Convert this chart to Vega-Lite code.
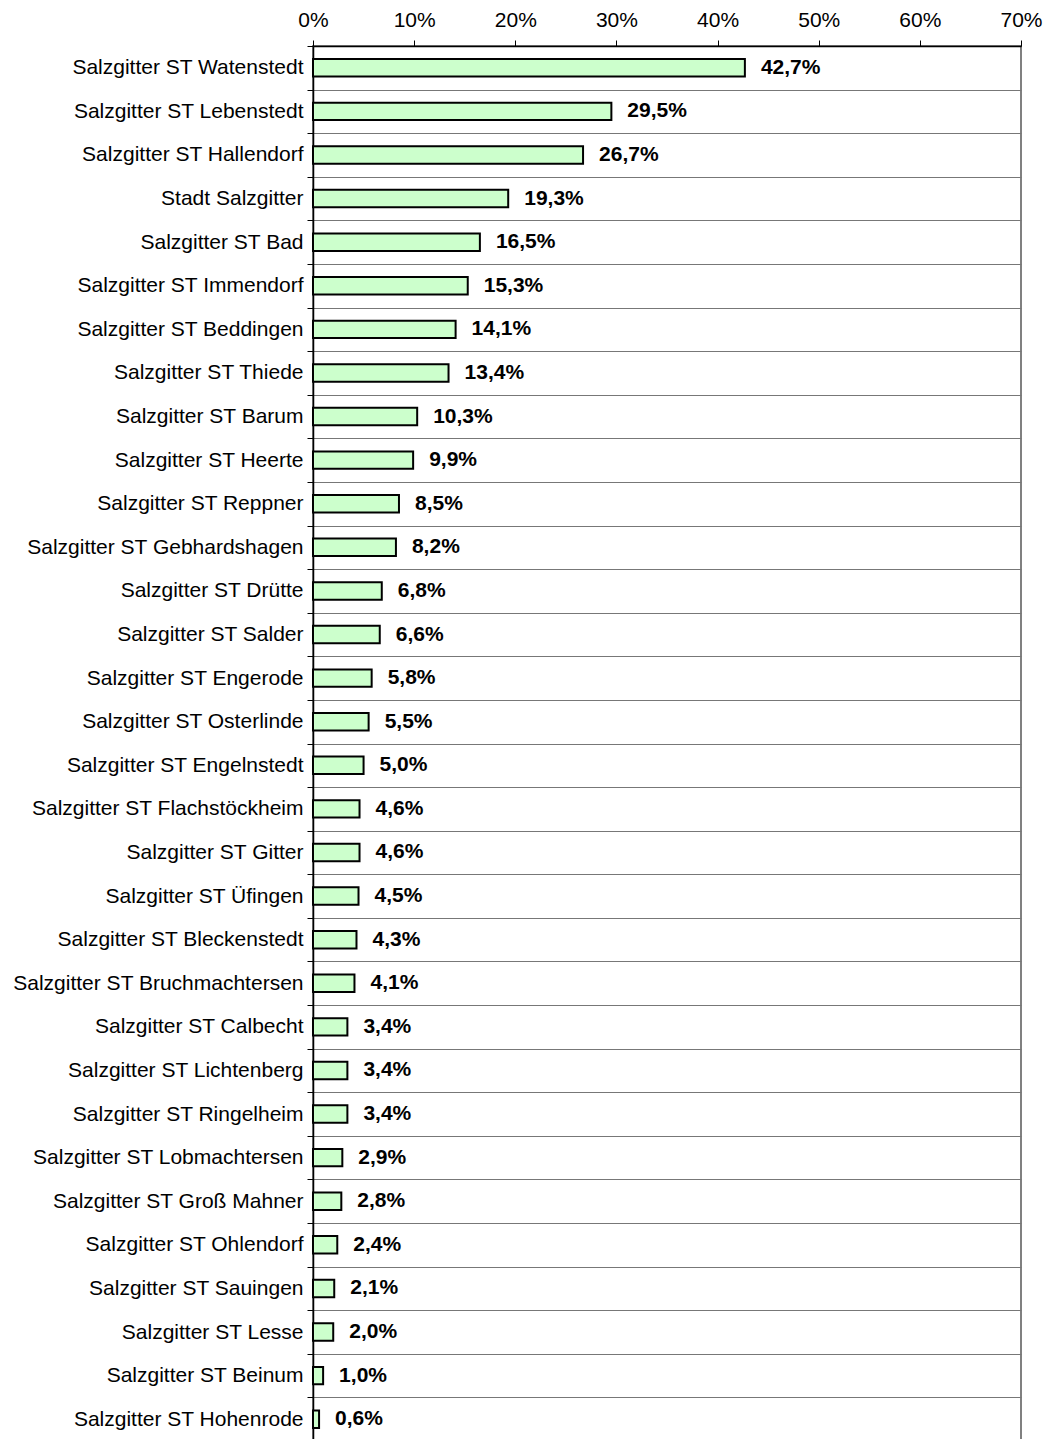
{
  "$schema": "https://vega.github.io/schema/vega-lite/v6.json",
  "width": 708,
  "height": 1395,
  "autosize": {"type": "none"},
  "padding": {"left": 313, "top": 46, "right": 23, "bottom": 0},
  "background": "white",
  "config": {
    "font": "Liberation Sans",
    "locale": {"number": {"decimal": ",", "thousands": ".", "grouping": [3], "currency": ["", " €"]}},
    "view": {"stroke": "#808080", "strokeWidth": 2},
    "axis": {"labelColor": "black", "domainColor": "black", "tickColor": "black", "labelFont": "Liberation Sans", "labelFontSize": 21, "title": null}
  },
  "data": {
    "values": [
      {"name": "Salzgitter ST Watenstedt", "pct": 0.427},
      {"name": "Salzgitter ST Lebenstedt", "pct": 0.295},
      {"name": "Salzgitter ST Hallendorf", "pct": 0.267},
      {"name": "Stadt Salzgitter", "pct": 0.193},
      {"name": "Salzgitter ST Bad", "pct": 0.165},
      {"name": "Salzgitter ST Immendorf", "pct": 0.153},
      {"name": "Salzgitter ST Beddingen", "pct": 0.141},
      {"name": "Salzgitter ST Thiede", "pct": 0.134},
      {"name": "Salzgitter ST Barum", "pct": 0.103},
      {"name": "Salzgitter ST Heerte", "pct": 0.099},
      {"name": "Salzgitter ST Reppner", "pct": 0.085},
      {"name": "Salzgitter ST Gebhardshagen", "pct": 0.082},
      {"name": "Salzgitter ST Drütte", "pct": 0.068},
      {"name": "Salzgitter ST Salder", "pct": 0.066},
      {"name": "Salzgitter ST Engerode", "pct": 0.058},
      {"name": "Salzgitter ST Osterlinde", "pct": 0.055},
      {"name": "Salzgitter ST Engelnstedt", "pct": 0.050},
      {"name": "Salzgitter ST Flachstöckheim", "pct": 0.046},
      {"name": "Salzgitter ST Gitter", "pct": 0.046},
      {"name": "Salzgitter ST Üfingen", "pct": 0.045},
      {"name": "Salzgitter ST Bleckenstedt", "pct": 0.043},
      {"name": "Salzgitter ST Bruchmachtersen", "pct": 0.041},
      {"name": "Salzgitter ST Calbecht", "pct": 0.034},
      {"name": "Salzgitter ST Lichtenberg", "pct": 0.034},
      {"name": "Salzgitter ST Ringelheim", "pct": 0.034},
      {"name": "Salzgitter ST Lobmachtersen", "pct": 0.029},
      {"name": "Salzgitter ST Groß Mahner", "pct": 0.028},
      {"name": "Salzgitter ST Ohlendorf", "pct": 0.024},
      {"name": "Salzgitter ST Sauingen", "pct": 0.021},
      {"name": "Salzgitter ST Lesse", "pct": 0.020},
      {"name": "Salzgitter ST Beinum", "pct": 0.010},
      {"name": "Salzgitter ST Hohenrode", "pct": 0.006}
    ]
  },
  "encoding": {
    "y": {
      "field": "name", "type": "nominal", "sort": null,
      "scale": {"paddingInner": 0, "paddingOuter": 0},
      "axis": {"grid": true, "gridColor": "#777777", "gridWidth": 1, "tickBand": "extent", "tickSize": 6, "labelPadding": 4, "domainWidth": 1.5, "labelLimit": 400}
    },
    "x": {
      "field": "pct", "type": "quantitative",
      "scale": {"domain": [0, 0.7], "nice": false},
      "axis": {"orient": "top", "values": [0, 0.1, 0.2, 0.3, 0.4, 0.5, 0.6, 0.7], "format": ".0%", "grid": false, "tickSize": 6, "labelPadding": 10, "labelFlush": false, "labelOverlap": false, "domainWidth": 1.5}
    }
  },
  "layer": [
    {
      "mark": {"type": "bar", "fill": "#ccffcc", "stroke": "black", "strokeWidth": 2, "height": {"band": 0.4}}
    },
    {
      "mark": {"type": "text", "align": "left", "baseline": "middle", "dx": 16, "fontSize": 21, "fontWeight": "bold", "color": "black"},
      "encoding": {"text": {"field": "pct", "type": "quantitative", "format": ".1%"}}
    }
  ]
}
